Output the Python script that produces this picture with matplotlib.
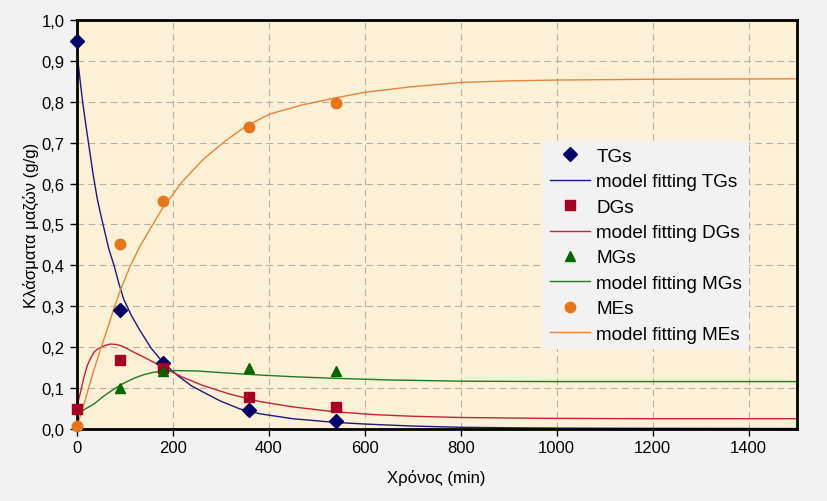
import matplotlib
matplotlib.use("Agg")
import matplotlib.pyplot as plt
from matplotlib.ticker import FuncFormatter

# Experimental data
t_exp = [0, 90, 180, 360, 540]
tg_exp = [0.95, 0.29, 0.16, 0.045, 0.018]
dg_exp = [0.048, 0.168, 0.148, 0.078, 0.053]
mg_exp = [0.0, 0.10, 0.14, 0.148, 0.14]
me_exp = [0.005, 0.452, 0.557, 0.738, 0.797]

# Model curves
tg_t = [0, 6, 12.5, 19, 25, 34, 43, 50, 57, 67, 78, 88, 98, 114, 130, 155, 180, 210, 240, 264, 300, 340,
        382, 450, 538, 600, 700, 800, 900, 1000, 1200, 1500]
tg_m = [0.93, 0.865, 0.80, 0.745, 0.697, 0.625, 0.5625, 0.525, 0.49, 0.44, 0.399, 0.355, 0.317, 0.277,
        0.244, 0.197, 0.162, 0.13, 0.104, 0.089, 0.067, 0.048, 0.036, 0.024, 0.015, 0.011, 0.006, 0.003,
        0.0018, 0.001, 0.0004, 0.0]

dg_t = [0, 4, 8, 15, 22, 29, 36, 43, 50, 60, 71, 82, 92, 105, 119, 140, 161, 180, 220, 264, 320, 382,
        450, 538, 620, 700, 800, 966, 1200, 1500]
dg_m = [0.048, 0.07, 0.089, 0.125, 0.154, 0.172, 0.187, 0.194, 0.199, 0.204, 0.207, 0.206, 0.203, 0.196,
        0.187, 0.175, 0.162, 0.15, 0.126, 0.105, 0.084, 0.066, 0.053, 0.041, 0.034, 0.030, 0.027, 0.025,
        0.024, 0.024]

mg_t = [0, 18, 36, 57, 78, 98, 119, 140, 161, 180, 208, 250, 300, 382, 450, 538, 650, 800, 1000, 1500]
mg_m = [0.036, 0.048, 0.06, 0.08, 0.097, 0.111, 0.123, 0.132, 0.138, 0.140, 0.142, 0.141, 0.137, 0.131,
        0.127, 0.123, 0.119, 0.116, 0.115, 0.115]

me_t = [0, 10, 21, 35, 50, 64, 78, 92, 112, 132, 153, 180, 220, 264, 310, 354, 403, 470, 538, 600, 700,
        800, 900, 1000, 1200, 1500]
me_m = [0.004, 0.04, 0.083, 0.14, 0.195, 0.244, 0.295, 0.342, 0.399, 0.447, 0.489, 0.542, 0.605, 0.66,
        0.705, 0.742, 0.771, 0.793, 0.81, 0.824, 0.838, 0.848, 0.852, 0.854, 0.856, 0.857]

xticks = [0, 200, 400, 600, 800, 1000, 1200, 1400]
yticks = [0.0, 0.1, 0.2, 0.3, 0.4, 0.5, 0.6, 0.7, 0.8, 0.9, 1.0]

plt.rcParams['font.family'] = ['Liberation Sans', 'DejaVu Sans']

fig = plt.figure(figsize=(8.27, 5.02), dpi=100, facecolor='#f2f2f2')
ax = fig.add_axes([0.0927, 0.1444, 0.8707, 0.8128])
ax.set_facecolor('#fcf0d6')

c_tg = '#000066'
c_dg = '#a50021'
c_mg = '#006600'
c_me = '#e8751a'

ax.plot(t_exp, tg_exp, linestyle='none', marker='D', ms=7, color=c_tg, label='TGs', zorder=5, clip_on=False)
ax.plot(tg_t, tg_m, color='#1a1a80', lw=1.0, label='model fitting TGs', zorder=3)
ax.plot(t_exp, dg_exp, linestyle='none', marker='s', ms=7.5, color=c_dg, label='DGs', zorder=5, clip_on=False)
ax.plot(dg_t, dg_m, color='#c0243a', lw=1.0, label='model fitting DGs', zorder=3)
ax.plot(t_exp, mg_exp, linestyle='none', marker='^', ms=7.5, color=c_mg, label='MGs', zorder=5)
ax.plot(mg_t, mg_m, color='#1f7a1f', lw=1.0, label='model fitting MGs', zorder=3)
ax.plot(t_exp, me_exp, linestyle='none', marker='o', ms=7.5, color=c_me, label='MEs', zorder=6, clip_on=False)
ax.plot(me_t, me_m, color='#e8843a', lw=1.0, label='model fitting MEs', zorder=3)

ax.set_xlim(0, 1500)
ax.set_ylim(0, 1.0)
ax.set_xticks(xticks)
ax.set_yticks(yticks)
ax.yaxis.set_major_formatter(FuncFormatter(lambda v, p: f"{v:.1f}".replace('.', ',')))
ax.grid(True, color='#b8b0a8', linestyle=(0, (6, 4)), linewidth=0.8)
ax.set_axisbelow(True)
for s in ax.spines.values():
    s.set_linewidth(2.0)
    s.set_color('black')
    s.set_zorder(4)
ax.tick_params(direction='out', length=5, width=1, labelsize=12, colors='black')

ax.set_xlabel('Χρόνος (min)', fontsize=12, labelpad=10)
ax.set_ylabel('Κλάσματα μαζών (g/g)', fontsize=12, labelpad=2)

leg = ax.legend(loc='upper left', bbox_to_anchor=(0.648, 0.704), frameon=True,
                fontsize=13.6, labelspacing=0.43, handlelength=2.15, handletextpad=0.3,
                borderpad=0.35, borderaxespad=0, fancybox=False)
leg.get_frame().set_facecolor('#f2f2f2')
leg.get_frame().set_edgecolor('none')
leg.get_frame().set_alpha(1)

fig.savefig('out.png', dpi=100, facecolor=fig.get_facecolor())
